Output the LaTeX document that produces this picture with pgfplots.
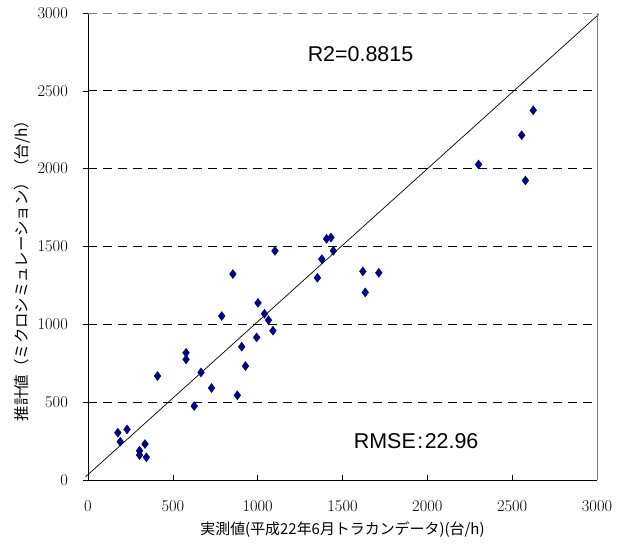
\documentclass[border=0pt]{standalone}
\usepackage{pgfplots}
\pgfplotsset{compat=1.18}
\usepackage{fontspec}
\newfontfamily\jp{Noto Sans CJK JP}
\newfontfamily\lib{Liberation Sans}
\newcommand\tickf{\rmfamily\fontsize{16.5}{19}\selectfont}
\definecolor{navy}{HTML}{000080}
\pgfplotstableread{
x y
176 304
190 246
230 325
304 188
304 160
336 231
344 146
410 668
578 817
578 775
626 475
666 691
728 591
788 1053
854 1323
880 544
906 856
928 732
994 916
1002 1138
1040 1068
1064 1027
1090 959
1102 1472
1352 1299
1378 1419
1406 1549
1432 1558
1446 1472
1620 1340
1634 1205
1714 1331
2302 2027
2556 2215
2578 1924
2624 2375
}\pts
\begin{document}
\begin{tikzpicture}
\begin{axis}[
  at={(0,0)}, anchor=origin,
  scale only axis, width=509bp, height=467bp,
  xmin=0, xmax=3000, ymin=0, ymax=3000,
  axis lines=left, axis line style={-, black, line width=0.8bp},
  xtick={0,500,...,3000},
  ytick={500,1000,...,2500},
  extra y ticks={0,3000}, extra y tick style={grid=none},
  ymajorgrids, grid style={black, dashed, line width=0.8bp, dash pattern=on 9bp off 6bp},
  tick style={black, line width=0.6bp},
  xtick align=inside, ytick align=outside, major tick length=5bp,
  xticklabel={\tickf\pgfmathprintnumber[assume math mode=true,1000 sep={}]{\tick}},
  yticklabel={\tickf\pgfmathprintnumber[assume math mode=true,1000 sep={}]{\tick}},
  extra y tick label={\tickf\pgfmathprintnumber[assume math mode=true,1000 sep={}]{\tick}},
  xticklabel style={inner sep=0pt, anchor=north, yshift=-20bp},
  yticklabel style={inner sep=0pt, anchor=east, xshift=-15bp},
  clip=false,
  xlabel={\jp 実測値(平成22年6月トラカンデータ)(台/h)},
  ylabel={\jp 推計値（ミクロシミュレーション）（台/h）},
  xlabel style={font=\fontsize{15}{18}\selectfont, at={(axis description cs:0.5,-0.107)}, anchor=center},
  ylabel style={font=\fontsize{15.5}{18}\selectfont, at={(axis description cs:-0.13,0.456)}, anchor=center},
]
\addplot[black, line width=0.7bp] coordinates {(-14,21) (3010,2991)};
\addplot[only marks, mark=diamond*, mark size=4.5bp, color=navy, mark options={fill=navy, draw=navy}] table[x=x,y=y] {\pts};
\draw[gray, line width=0.8bp] (rel axis cs:1,0) -- (rel axis cs:1,1);
\draw[gray, dashed, line width=0.8bp, dash pattern=on 9bp off 6bp] (rel axis cs:0,1) -- (rel axis cs:1,1);
\node[font=\lib\fontsize{21.5}{24}\selectfont] at (axis cs:1606,2735) {R2=0.8815};
\node[font=\lib\fontsize{21.5}{24}\selectfont] at (axis cs:1934,252) {RMSE\kern1.5bp:\kern1.5bp22.96};
\end{axis}
\path (-88bp,-64bp) rectangle (542bp,480bp);
\end{tikzpicture}
\end{document}
